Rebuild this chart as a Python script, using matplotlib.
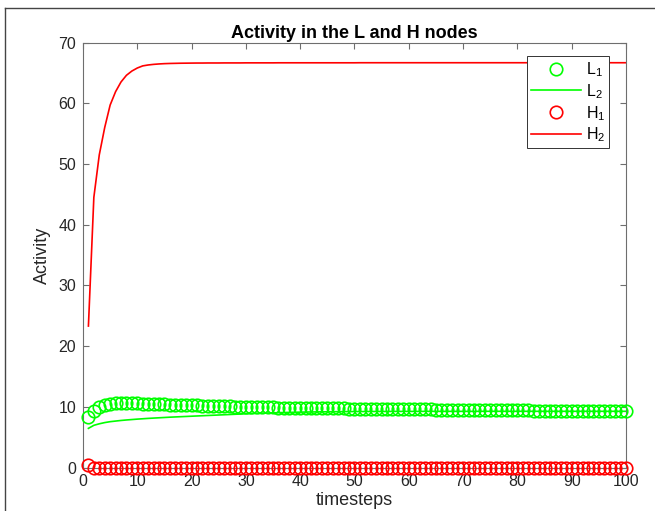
import matplotlib
matplotlib.use("Agg")
import matplotlib.pyplot as plt
from matplotlib.lines import Line2D

plt.rcParams["font.family"] = ["Liberation Sans", "DejaVu Sans"]
plt.rcParams["mathtext.fontset"] = "custom"
plt.rcParams["mathtext.rm"] = "Liberation Sans"

# -------------------------
# Data
# -------------------------

timesteps = list(range(1, 101))

L1 = [
    8.40, 9.30, 9.90, 10.25, 10.45, 10.55, 10.60, 10.60, 10.58, 10.55,
    10.52, 10.49, 10.46, 10.43, 10.40, 10.37, 10.34, 10.31, 10.28, 10.25,
    10.22, 10.19, 10.16, 10.13, 10.10, 10.08, 10.06, 10.04, 10.02, 10.00,
    9.98, 9.96, 9.94, 9.92, 9.90, 9.88, 9.86, 9.84, 9.83, 9.82,
    9.80, 9.79, 9.78, 9.76, 9.75, 9.74, 9.73, 9.72, 9.71, 9.70,
    9.69, 9.68, 9.67, 9.66, 9.65, 9.64, 9.63, 9.62, 9.61, 9.60,
    9.59, 9.58, 9.57, 9.56, 9.55, 9.54, 9.53, 9.52, 9.51, 9.50,
    9.49, 9.48, 9.47, 9.46, 9.45, 9.45, 9.44, 9.43, 9.42, 9.41,
    9.40, 9.40, 9.39, 9.38, 9.37, 9.37, 9.36, 9.35, 9.35, 9.34,
    9.33, 9.33, 9.32, 9.32, 9.31, 9.30, 9.30, 9.29, 9.29, 9.28,
]

L2 = [
    6.45, 6.95, 7.20, 7.40, 7.55, 7.65, 7.75, 7.83, 7.90, 7.97,
    8.03, 8.09, 8.14, 8.19, 8.24, 8.29, 8.33, 8.37, 8.41, 8.45,
    8.49, 8.53, 8.57, 8.61, 8.65, 8.69, 8.73, 8.77, 8.81, 8.85,
    8.88, 8.91, 8.94, 8.97, 9.00, 9.03, 9.06, 9.08, 9.10, 9.12,
    9.14, 9.15, 9.16, 9.17, 9.18, 9.19, 9.20, 9.21, 9.21, 9.22,
    9.22, 9.22, 9.23, 9.23, 9.23, 9.23, 9.24, 9.24, 9.24, 9.24,
    9.24, 9.24, 9.25, 9.25, 9.25, 9.25, 9.25, 9.25, 9.25, 9.25,
    9.25, 9.25, 9.26, 9.26, 9.26, 9.26, 9.26, 9.26, 9.26, 9.26,
    9.26, 9.26, 9.26, 9.26, 9.26, 9.26, 9.26, 9.26, 9.26, 9.26,
    9.26, 9.26, 9.26, 9.26, 9.26, 9.26, 9.26, 9.26, 9.26, 9.26,
]

H1 = [
    0.40, -0.10, -0.10, -0.10, -0.10, -0.10, -0.10, -0.10, -0.10, -0.10,
    -0.10, -0.10, -0.10, -0.10, -0.10, -0.10, -0.10, -0.10, -0.10, -0.10,
    -0.10, -0.10, -0.10, -0.10, -0.10, -0.10, -0.10, -0.10, -0.10, -0.10,
    -0.10, -0.10, -0.10, -0.10, -0.10, -0.10, -0.10, -0.10, -0.10, -0.10,
    -0.10, -0.10, -0.10, -0.10, -0.10, -0.10, -0.10, -0.10, -0.10, -0.10,
    -0.10, -0.10, -0.10, -0.10, -0.10, -0.10, -0.10, -0.10, -0.10, -0.10,
    -0.10, -0.10, -0.10, -0.10, -0.10, -0.10, -0.10, -0.10, -0.10, -0.10,
    -0.10, -0.10, -0.10, -0.10, -0.10, -0.10, -0.10, -0.10, -0.10, -0.10,
    -0.10, -0.10, -0.10, -0.10, -0.10, -0.10, -0.10, -0.10, -0.10, -0.10,
    -0.10, -0.10, -0.10, -0.10, -0.10, -0.10, -0.10, -0.10, -0.10, -0.10,
]

H2 = [
    23.3, 44.5, 51.5, 56.0, 59.7, 61.9, 63.5, 64.6, 65.3, 65.8,
    66.15, 66.30, 66.40, 66.47, 66.52, 66.55, 66.57, 66.59, 66.60, 66.61,
    66.62, 66.62, 66.63, 66.63, 66.63, 66.64, 66.64, 66.64, 66.64, 66.65,
    66.65, 66.65, 66.65, 66.65, 66.65, 66.66, 66.66, 66.66, 66.66, 66.66,
    66.66, 66.66, 66.66, 66.66, 66.66, 66.66, 66.66, 66.66, 66.66, 66.66,
    66.67, 66.67, 66.67, 66.67, 66.67, 66.67, 66.67, 66.67, 66.67, 66.67,
    66.67, 66.67, 66.67, 66.67, 66.67, 66.67, 66.67, 66.67, 66.67, 66.67,
    66.67, 66.67, 66.67, 66.67, 66.67, 66.67, 66.67, 66.67, 66.67, 66.67,
    66.67, 66.67, 66.67, 66.67, 66.67, 66.67, 66.67, 66.67, 66.67, 66.67,
    66.67, 66.67, 66.67, 66.67, 66.67, 66.67, 66.67, 66.67, 66.67, 66.67,
]

x_ticks = [0, 10, 20, 30, 40, 50, 60, 70, 80, 90, 100]
y_ticks = [0, 10, 20, 30, 40, 50, 60, 70]

# -------------------------
# Figure
# -------------------------

fig = plt.figure(figsize=(6.55, 5.11), dpi=100)
ax = fig.add_axes([0.1267, 0.0851, 0.829, 0.8317])

green = "#00ff00"
red = "#ff0000"

ax.plot(timesteps, L1, "o", color=green, mfc="none", mec=green,
        ms=9, mew=1.2, clip_on=False, label=r"$\mathregular{L_1}$", zorder=3)
ax.plot(timesteps, L2, "-", color=green, lw=1.2,
        label=r"$\mathregular{L_2}$", zorder=2)
ax.plot(timesteps, H1, "o", color=red, mfc="none", mec=red,
        ms=9, mew=1.2, clip_on=False, label=r"$\mathregular{H_1}$", zorder=3)
ax.plot(timesteps, H2, "-", color=red, lw=1.2,
        label=r"$\mathregular{H_2}$", zorder=2)

ax.set_xlim(0, 100)
ax.set_ylim(0, 70)
ax.set_xticks(x_ticks)
ax.set_yticks(y_ticks)

axis_grey = "#6e6e6e"
for s in ax.spines.values():
    s.set_color(axis_grey)
    s.set_linewidth(0.8)

ax.tick_params(direction="in", length=4.5, width=0.8, color=axis_grey,
               top=True, right=True, labelsize=11.5, labelcolor="#262626")
ax.tick_params(axis="x", pad=5)
ax.tick_params(axis="y", pad=5)

ax.set_xlabel("timesteps", fontsize=13, color="#262626", labelpad=2)
ax.set_ylabel("Activity", fontsize=13, color="#262626", labelpad=5)
ax.set_title("Activity in the L and H nodes", fontsize=13,
             fontweight="bold", pad=3)

leg = ax.legend(
    loc="upper right",
    bbox_to_anchor=(0.969, 0.968),
    borderaxespad=0,
    fontsize=11.5,
    handlelength=3.1,
    handletextpad=0.3,
    labelspacing=0.2,
    borderpad=0.25,
    fancybox=False,
    framealpha=1,
)
leg.get_frame().set_edgecolor("#333333")
leg.get_frame().set_linewidth(0.7)

# screenshot frame (top and left edges)
fig.add_artist(Line2D([0.008, 1.0], [0.984, 0.984], color="#444444", lw=1.0))
fig.add_artist(Line2D([0.008, 0.008], [0.0, 0.984], color="#444444", lw=1.0))

plt.savefig("out.png", dpi=100)
plt.close()
